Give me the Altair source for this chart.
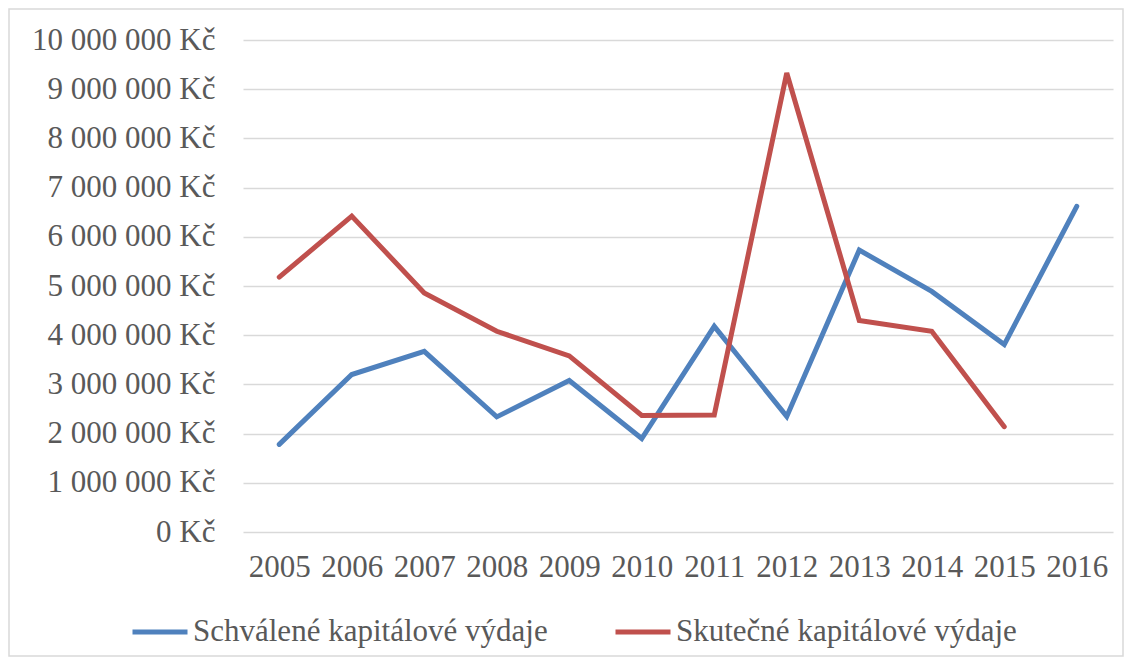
import altair as alt
import pandas as pd

years = ["2005", "2006", "2007", "2008", "2009", "2010", "2011", "2012", "2013", "2014", "2015", "2016"]
schvalene = [1780000, 3200000, 3670000, 2340000, 3080000, 1900000, 4180000, 2350000, 5730000, 4890000, 3810000, 6620000]
skutecne = [5180000, 6420000, 4860000, 4080000, 3580000, 2370000, 2380000, 9330000, 4300000, 4080000, 2140000, None]
series_names = ["Schválené kapitálové výdaje", "Skutečné kapitálové výdaje"]
colors = ["#4F81BD", "#C0504D"]

rows = []
for i, y in enumerate(years):
    rows.append({"rok": y, "série": series_names[0], "hodnota": schvalene[i]})
    if skutecne[i] is not None:
        rows.append({"rok": y, "série": series_names[1], "hodnota": skutecne[i]})
df = pd.DataFrame(rows)

FONT = "Liberation Serif"
TXT = "#595959"

lines = alt.Chart(df).mark_line(strokeWidth=5, strokeCap="round", strokeJoin="miter").encode(
    x=alt.X("rok:O", sort=years, title=None,
            scale=alt.Scale(type="point", padding=0.5),
            axis=alt.Axis(labelAngle=0, ticks=False, domain=False, grid=False,
                          labelFont=FONT, labelFontSize=31, labelColor=TXT, labelPadding=20)),
    y=alt.Y("hodnota:Q", title=None,
            scale=alt.Scale(domain=[0, 10000000], nice=False),
            axis=alt.Axis(values=list(range(0, 10000001, 1000000)), ticks=False, domain=False,
                          grid=True, gridColor="#d9d9d9", gridWidth=1.5,
                          labelFont=FONT, labelFontSize=31, labelColor=TXT, labelPadding=28,
                          labelLimit=400,
                          labelExpr="replace(format(datum.value, ','), /,/g, ' ') + ' Kč'")),
    color=alt.Color("série:N", sort=series_names,
                    scale=alt.Scale(domain=series_names, range=colors),
                    legend=alt.Legend(title=None, orient="none", direction="horizontal",
                                      legendX=-113, legendY=562, padding=0,
                                      symbolType="stroke", symbolSize=3025, symbolStrokeWidth=5,
                                      labelFont=FONT, labelFontSize=31, labelColor=TXT,
                                      labelBaseline="middle",
                                      labelLimit=600, labelOffset=3, columnPadding=57)),
)

frame = alt.Chart(pd.DataFrame({"a": [0]})).mark_rect(fill=None, stroke="#d9d9d9", strokeWidth=1.5).encode(
    x=alt.value(-234), x2=alt.value(880), y=alt.value(-31), y2=alt.value(616)
)

chart = alt.layer(frame, lines).properties(
    width=870, height=492,
    autosize=alt.AutoSizeParams(type="none"),
    padding={"left": 235, "top": 32, "right": 11, "bottom": 125},
    background="white",
).configure_view(stroke=None)

chart.save("out.html", embed_options={"renderer": "svg", "actions": False})
